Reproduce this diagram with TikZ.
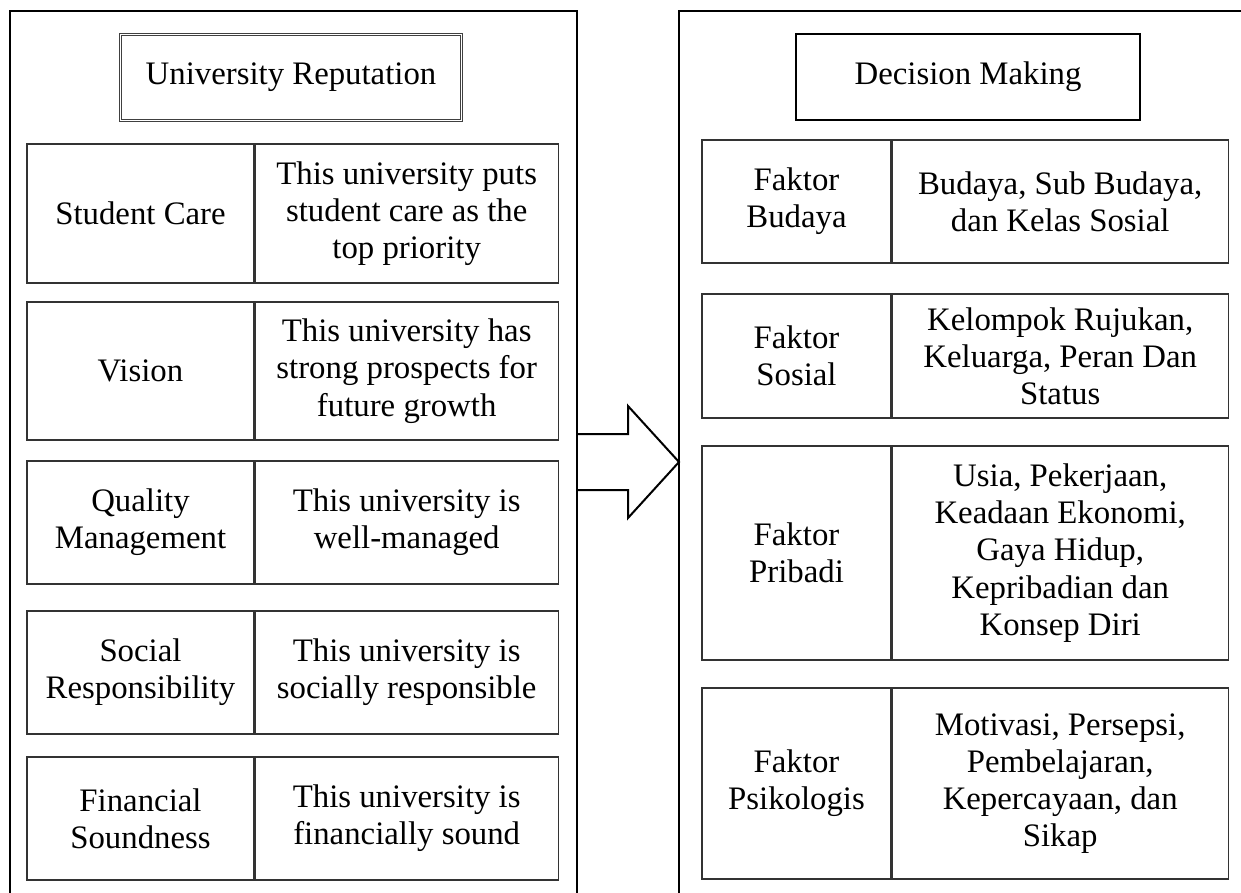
\documentclass[tikz,border=0pt]{standalone}
\usepackage{fontspec}
\setmainfont{Liberation Serif}
\usepackage{tikz}
\usetikzlibrary{positioning}

\begin{document}
\begin{tikzpicture}[x=0.5pt, y=-0.5pt,
  frame/.style={line width=1.1pt, line join=miter},
  cell/.style={draw=black!80, line width=0.6pt, align=center, inner sep=2pt,
    font=\fontsize{16.4}{18.6}\selectfont},
  lname/.style={cell, minimum width=113.5pt},
  ldesc/.style={cell, minimum width=151.5pt, anchor=west},
  rname/.style={cell, minimum width=94.5pt},
  rdesc/.style={cell, minimum width=168pt, anchor=west},
  titlebox/.style={align=center, inner sep=2pt, font=\fontsize{16.4}{18.6}\selectfont}
]
  \useasboundingbox (0,0) rectangle (1241,893);
  % outer panels, open at the bottom
  \draw[frame] (10,893) -- (10,11) -- (577,11) -- (577,893);
  \draw[frame] (679,893) -- (679,11) -- (1250,11);
  % titles
  \node[titlebox, draw=black!75, double=white, double distance=0.8pt, line width=0.55pt,
    minimum width=170.5pt, minimum height=43pt] (rep) at (291,77.5) {University Reputation};
  \node[titlebox, draw, line width=1pt, minimum width=172pt, minimum height=43pt]
    (dec) at (968,77) {Decision Making};
  % left rows
  \node[lname, minimum height=69.5pt] (care) at (140.5,213.5) {Student Care};
  \node[ldesc, minimum height=69.5pt] (careD) at (care.east)
    {This university puts\\student care as the\\top priority};
  \node[lname, minimum height=69pt] (vis) at (140.5,371) {Vision};
  \node[ldesc, minimum height=69pt] (visD) at (vis.east)
    {This university has\\strong prospects for\\future growth};
  \node[lname, minimum height=61.5pt] (qual) at (140.5,522.5) {Quality\\Management};
  \node[ldesc, minimum height=61.5pt] (qualD) at (qual.east)
    {This university is\\well-managed};
  \node[lname, minimum height=61.5pt] (soc) at (140.5,672.5) {Social\\Responsibility};
  \node[ldesc, minimum height=61.5pt] (socD) at (soc.east)
    {This university is\\socially responsible};
  \node[lname, minimum height=61.5pt] (fin) at (140.5,818.5) {Financial\\Soundness};
  \node[ldesc, minimum height=61.5pt] (finD) at (fin.east)
    {This university is\\financially sound};
  % right rows
  \node[rname, minimum height=61.5pt] (bud) at (796.5,201.5) {Faktor\\Budaya};
  \node[rdesc, minimum height=61.5pt] (budD) at (bud.east)
    {Budaya, Sub Budaya,\\dan Kelas Sosial};
  \node[rname, minimum height=62pt] (sos) at (796.5,356) {Faktor\\Sosial};
  \node[rdesc, minimum height=62pt] (sosD) at (sos.east)
    {Kelompok Rujukan,\\Keluarga, Peran Dan\\Status};
  \node[rname, minimum height=107pt] (pri) at (796.5,553) {Faktor\\Pribadi};
  \node[rdesc, minimum height=107pt] (priD) at (pri.east)
    {Usia, Pekerjaan,\\Keadaan Ekonomi,\\Gaya Hidup,\\Kepribadian dan\\Konsep Diri};
  \node[rname, minimum height=95.5pt] (psi) at (796.5,783.5) {Faktor\\Psikologis};
  \node[rdesc, minimum height=95.5pt] (psiD) at (psi.east)
    {Motivasi, Persepsi,\\Pembelajaran,\\Kepercayaan, dan\\Sikap};
  % block arrow between the panels
  \draw[line width=1pt, line join=miter]
    (577,434) -- (628,434) -- (628,406) -- (679,462) -- (628,518) -- (628,490) -- (577,490);
\end{tikzpicture}
\end{document}
